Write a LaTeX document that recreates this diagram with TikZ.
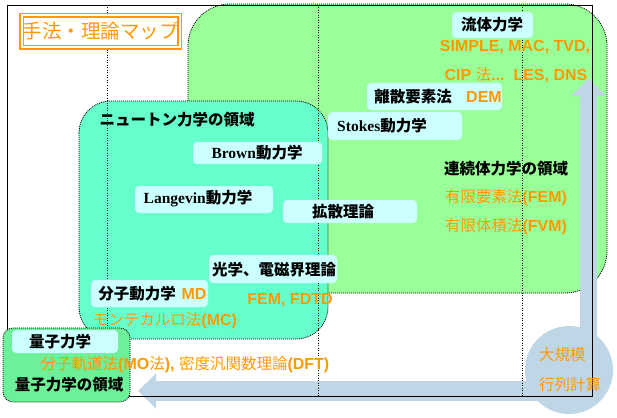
\documentclass[tikz,border=0pt]{standalone}
\usepackage{fontspec}
\setmainfont{Noto Sans CJK JP}
\newfontfamily\arl{Liberation Sans}
\newfontfamily\srf{Liberation Serif}
\usepackage{tikz}
\usetikzlibrary{arrows.meta}
\definecolor{contgreen}{RGB}{153,255,153}
\definecolor{newtcyan}{RGB}{102,255,204}
\definecolor{qgreen}{RGB}{108,240,152}
\definecolor{lblue}{RGB}{204,255,255}
\definecolor{jorange}{RGB}{255,153,0}
\definecolor{bandblue}{RGB}{190,214,230}
\newcommand\eng[1]{{\arl\bfseries\fontsize{16}{16}\selectfont #1}}
\newcommand\rom[1]{{\srf\bfseries #1}}

\begin{document}
\begin{tikzpicture}[
  x=1pt, y=-1pt,
  region/.style={draw=black, line width=0.8pt, dash pattern=on 1pt off 1pt},
  divline/.style={line width=0.8pt, dash pattern=on 1pt off 1.5pt},
  lbox/.style={fill=lblue, rounded corners=4pt, inner sep=0pt},
  lbl/.style={inner sep=0pt, font=\fontsize{15.5}{15.5}\selectfont\bfseries},
  ora/.style={inner sep=0pt, text=jorange, font=\fontsize{15.5}{15.5}\selectfont},
  bandarrow/.style={draw=bandblue, -{Triangle[length=18pt,width=34pt]}},
]
\useasboundingbox (0,0) rectangle (617,417);

% ===================== regions =====================
\draw[region, fill=contgreen, rounded corners=42pt] (188,4) rectangle (607,293);
\draw[region, fill=newtcyan, rounded corners=32pt] (79,101) rectangle (328,339);

% ===================== large-scale matrix band =====================
\node[circle, fill=bandblue, minimum size=88pt, inner sep=0pt] (bigmat) at (569,370) {};
\coordinate (uptip)   at (588.5,78);
\coordinate (lefttip) at (138,391);
\draw[bandarrow, line width=17pt] (bigmat.center -| uptip) -- (uptip);
\draw[bandarrow, line width=20pt] (bigmat.center |- lefttip) -- (lefttip);

% ===================== frame and dividers =====================
\foreach \x in {107,318,522}
  \draw[divline] (\x,5) -- (\x,396);
\draw[line width=0.9pt] (7,5) rectangle (592,396);

\draw[region, fill=qgreen, rounded corners=10pt] (3,328) rectangle (130,402);

% title
\node[draw=jorange, double=white, double distance=2pt, line width=1.3pt,
      fill=white, text=jorange, minimum width=158pt, minimum height=32pt,
      inner sep=0pt, font=\fontsize{19.5}{19.5}\selectfont] (title) at (100.5,31.5) {手法・理論マップ};

% ===================== label boxes =====================
\node[lbox, minimum width=81pt,  minimum height=26pt] (fluidbox)  at (492.5,25)  {};
\node[lbox, minimum width=135pt, minimum height=27pt] (dembox)    at (434.5,96.5) {};
\node[lbox, minimum width=134pt, minimum height=28pt] (stokesbox) at (395,126)   {};
\node[lbox, minimum width=129pt, minimum height=22pt] (brownbox)  at (257.5,153) {};
\node[lbox, minimum width=138pt, minimum height=27pt] (langbox)   at (204,199.5) {};
\node[lbox, minimum width=134pt, minimum height=23pt] (diffbox)   at (350,211.5) {};
\node[lbox, minimum width=128pt, minimum height=28pt] (opticbox)  at (273,269)   {};
\node[lbox, minimum width=117pt, minimum height=27pt] (mdbox)     at (149.5,293.5) {};
\node[lbox, minimum width=106pt, minimum height=23pt] (qmbox)     at (65,341.5)  {};

% ===================== texts =====================
% continuum mechanics
\node[lbl] (fluid)  at (492,25)  {流体力学};
\node[ora] (fluidm) at (515,47)  {\eng{SIMPLE, MAC, TVD,}};
\node[ora] (cipm)   at (516,75)  {\eng{CIP }法\eng{...\ \ LES, DNS}};
\node[lbl] (dem)    at (413,97)  {離散要素法};
\node[ora] (demm)   at (484,97)  {\eng{DEM}};
\node[lbl] (cont)   at (506,169) {連続体力学の領域};
\node[ora] (fem)    at (506,198) {有限要素法\eng{(FEM)}};
\node[ora] (fvm)    at (506,227) {有限体積法\eng{(FVM)}};

% Newtonian mechanics
\node[lbl] (newton)   at (177,120) {ニュートン力学の領域};
\node[lbl] (stokes)   at (382,126) {\rom{Stokes}動力学};
\node[lbl] (brown)    at (257,153) {\rom{Brown}動力学};
\node[lbl] (langevin) at (198,199) {\rom{Langevin}動力学};
\node[lbl] (diff)     at (343,212) {拡散理論};
\node[lbl] (optic)    at (274,270) {光学、電磁界理論};
\node[ora] (opticm)   at (290,300) {\eng{FEM, FDTD}};
\node[lbl] (md)       at (137,294) {分子動力学};
\node[ora] (mdm)      at (194,294) {\eng{MD}};
\node[ora] (mc)       at (165,321) {モンテカルロ法\eng{(MC)}};

% quantum mechanics
\node[lbl] (qm)     at (60,342)  {量子力学};
\node[ora] (qmm)    at (185,365) {分子軌道法\eng{(MO}法\eng{), }密度汎関数理論\eng{(DFT)}};
\node[lbl] (qmarea) at (69,385)  {量子力学の領域};

% large-scale matrix
\node[ora, align=left, font=\fontsize{15.5}{30}\selectfont] (bigmatlbl) at (570,370) {大規模\\行列計算};

\end{tikzpicture}
\end{document}
